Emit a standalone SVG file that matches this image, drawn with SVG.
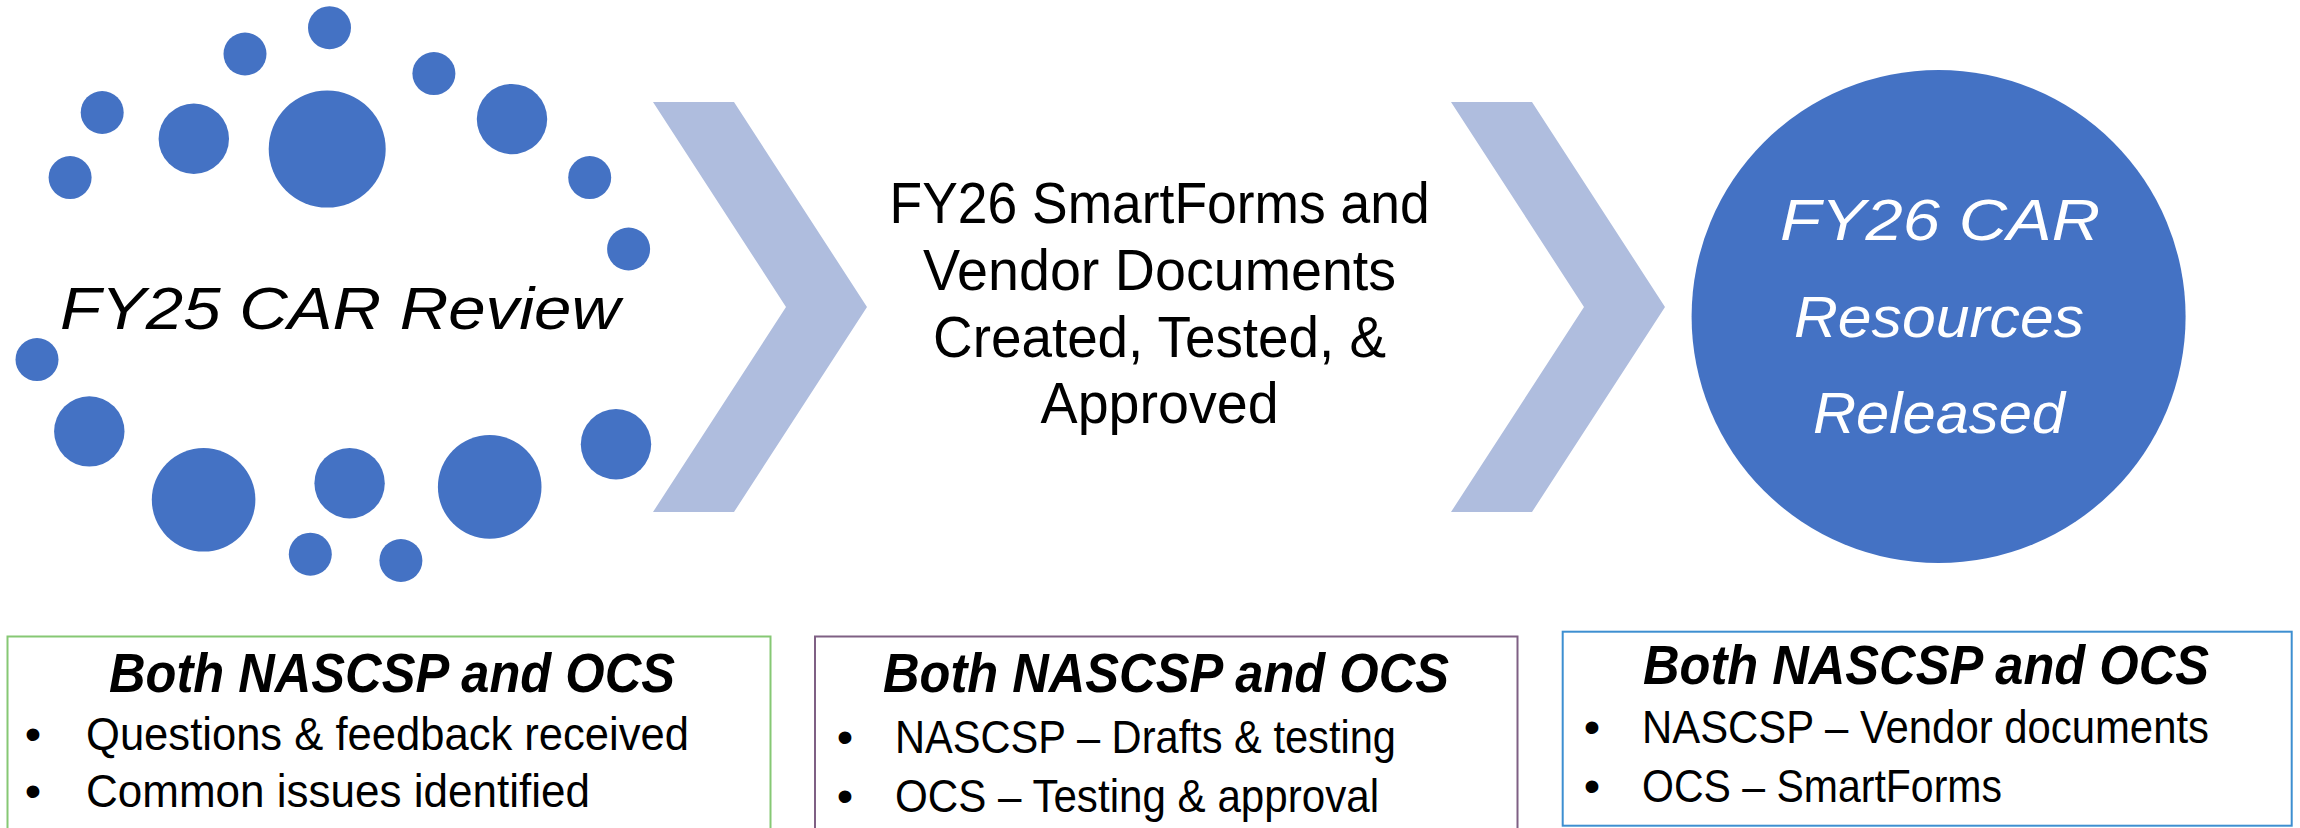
<svg xmlns="http://www.w3.org/2000/svg" width="2300" height="828" viewBox="0 0 2300 828">
<style>
.dot{fill:#4472C4}
.chev{fill:#AFBDDE}
.hand{font-family:"Liberation Sans",Arial,sans-serif;font-style:italic}
.sans{font-family:"Liberation Sans",Arial,sans-serif;fill:#000}
.box{fill:#fff;stroke-width:2}
.head{font-family:"Liberation Sans",Arial,sans-serif;font-style:italic;font-weight:bold;font-size:55px;fill:#000}
.item{font-family:"Liberation Sans",Arial,sans-serif;font-size:47px;fill:#000}
</style>
<rect width="2300" height="828" fill="#fff"/>

<g id="connectors">
  <polygon class="chev" points="653,102 734,102 867,307 734,512 653,512 786,307"/>
  <polygon class="chev" points="1451,102 1532,102 1665,307 1532,512 1451,512 1584,307"/>
</g>

<g id="node-fy25-review">
  <circle class="dot" cx="329.5" cy="27.7" r="21.5"/>
  <circle class="dot" cx="245" cy="54" r="21.5"/>
  <circle class="dot" cx="102.2" cy="112.5" r="21.5"/>
  <circle class="dot" cx="70.1" cy="177.6" r="21.5"/>
  <circle class="dot" cx="193.8" cy="138.7" r="35.2"/>
  <circle class="dot" cx="327.2" cy="149.1" r="58.5"/>
  <circle class="dot" cx="433.9" cy="73.6" r="21.5"/>
  <circle class="dot" cx="512" cy="119.1" r="35.2"/>
  <circle class="dot" cx="589.7" cy="177.6" r="21.5"/>
  <circle class="dot" cx="628.6" cy="249" r="21.5"/>
  <circle class="dot" cx="37" cy="359.6" r="21.5"/>
  <circle class="dot" cx="89.3" cy="431.4" r="35.2"/>
  <circle class="dot" cx="203.6" cy="499.8" r="51.8"/>
  <circle class="dot" cx="349.6" cy="483.2" r="35.2"/>
  <circle class="dot" cx="489.7" cy="486.9" r="51.8"/>
  <circle class="dot" cx="616" cy="444.3" r="35.2"/>
  <circle class="dot" cx="310.3" cy="554.2" r="21.5"/>
  <circle class="dot" cx="400.9" cy="560.5" r="21.5"/>
  <text class="hand" x="60" y="329" font-size="60" fill="#000" textLength="560" lengthAdjust="spacingAndGlyphs">FY25 CAR Review</text>
</g>

<g id="node-fy26-smartforms">
  <text class="sans" font-size="57" text-anchor="middle" x="1159.6" y="222.7" textLength="540" lengthAdjust="spacingAndGlyphs">FY26 SmartForms and</text>
  <text class="sans" font-size="57" text-anchor="middle" x="1159.6" y="290" textLength="473" lengthAdjust="spacingAndGlyphs">Vendor Documents</text>
  <text class="sans" font-size="57" text-anchor="middle" x="1159.6" y="356.7" textLength="453" lengthAdjust="spacingAndGlyphs">Created, Tested, &amp;</text>
  <text class="sans" font-size="57" text-anchor="middle" x="1159.6" y="423.3" textLength="238" lengthAdjust="spacingAndGlyphs">Approved</text>
</g>

<g id="node-fy26-released">
  <ellipse class="dot" cx="1938.6" cy="316.5" rx="247" ry="246.5"/>
  <text class="hand" font-size="58" fill="#fff" text-anchor="middle" x="1940" y="240" textLength="320" lengthAdjust="spacingAndGlyphs">FY26 CAR</text>
  <text class="hand" font-size="58" fill="#fff" text-anchor="middle" x="1939" y="336.7" textLength="290" lengthAdjust="spacingAndGlyphs">Resources</text>
  <text class="hand" font-size="58" fill="#fff" text-anchor="middle" x="1939" y="433" textLength="252" lengthAdjust="spacingAndGlyphs">Released</text>
</g>

<g id="box-review">
  <rect class="box" x="7.5" y="636.5" width="763" height="200" stroke="#86C874"/>
  <text class="head" x="109" y="692" textLength="566" lengthAdjust="spacingAndGlyphs">Both NASCSP and OCS</text>
  <text class="item" x="33" y="750" text-anchor="middle">•</text>
  <text class="item" x="86" y="750" textLength="603" lengthAdjust="spacingAndGlyphs">Questions &amp; feedback received</text>
  <text class="item" x="33" y="806.7" text-anchor="middle">•</text>
  <text class="item" x="86" y="806.7" textLength="504" lengthAdjust="spacingAndGlyphs">Common issues identified</text>
</g>

<g id="box-created">
  <rect class="box" x="815" y="636.5" width="702.5" height="200" stroke="#7F6084"/>
  <text class="head" x="883" y="692" textLength="566" lengthAdjust="spacingAndGlyphs">Both NASCSP and OCS</text>
  <text class="item" x="845" y="753" text-anchor="middle">•</text>
  <text class="item" x="895" y="753" textLength="501" lengthAdjust="spacingAndGlyphs">NASCSP – Drafts &amp; testing</text>
  <text class="item" x="845" y="811.7" text-anchor="middle">•</text>
  <text class="item" x="895" y="811.7" textLength="484" lengthAdjust="spacingAndGlyphs">OCS – Testing &amp; approval</text>
</g>

<g id="box-released">
  <rect class="box" x="1562.7" y="631.7" width="729" height="194" stroke="#3D8FD1"/>
  <text class="head" x="1643" y="684" textLength="566" lengthAdjust="spacingAndGlyphs">Both NASCSP and OCS</text>
  <text class="item" x="1592" y="743" text-anchor="middle">•</text>
  <text class="item" x="1642" y="743" textLength="567" lengthAdjust="spacingAndGlyphs">NASCSP – Vendor documents</text>
  <text class="item" x="1592" y="801.7" text-anchor="middle">•</text>
  <text class="item" x="1642" y="801.7" textLength="360" lengthAdjust="spacingAndGlyphs">OCS – SmartForms</text>
</g>
</svg>
